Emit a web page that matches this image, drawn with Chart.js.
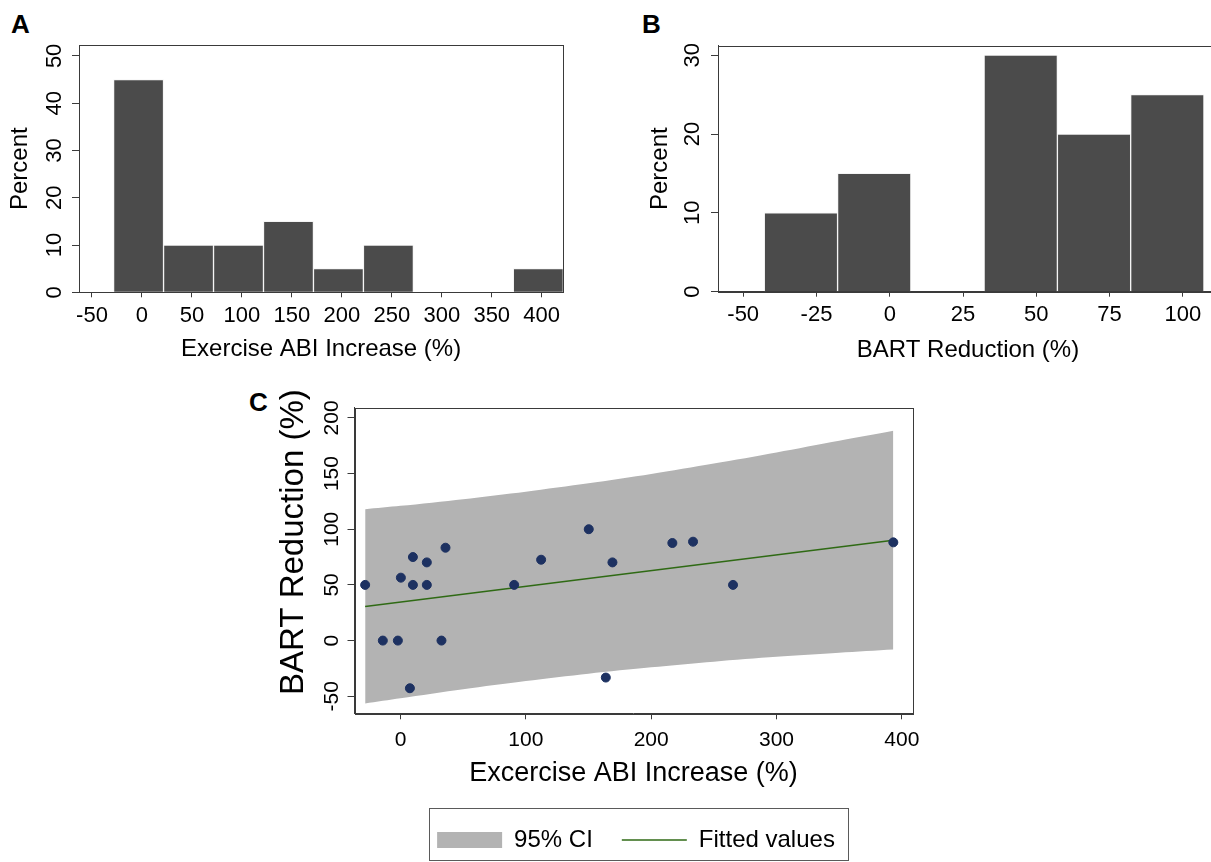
<!DOCTYPE html>
<html>
<head>
<meta charset="utf-8">
<script src="https://cdn.jsdelivr.net/npm/chart.js@4.4.1/dist/chart.umd.min.js"></script>
<style>
  html, body { margin: 0; padding: 0; background: #fff; overflow: hidden; }
  body { position: relative; width: 1211px; height: 862px; }
  canvas { position: absolute; }
  .tag { position: absolute; font: bold 26px "Liberation Sans", Arial, sans-serif; color: #000; line-height: 1; }
</style>
</head>
<body>
<div class="tag" style="left:11px;top:11px">A</div>
<div class="tag" style="left:642px;top:11px">B</div>
<div class="tag" style="left:249px;top:389px">C</div>
<canvas id="histAbi" width="600" height="370" style="left:0;top:0"></canvas>
<canvas id="histBart" width="640" height="370" style="left:600px;top:0"></canvas>
<canvas id="scatter" width="752" height="482" style="left:260px;top:380px"></canvas>
<script>
// panel A histogram (bin centres, percent)
const abiBins = [-3.4, 46.6, 96.6, 146.6, 196.6, 246.6, 296.6, 346.6, 396.6];
const abiPercent = [45, 10, 10, 15, 5, 10, 0, 0, 5];
const abiTicks = [-50, 0, 50, 100, 150, 200, 250, 300, 350, 400];
const abiPctTicks = [0, 10, 20, 30, 40, 50];

// panel B histogram
const bartBins = [-30.3, -5.3, 19.7, 44.7, 69.7, 94.7];
const bartPercent = [10, 15, 0, 30, 20, 25];
const bartTicks = [-50, -25, 0, 25, 50, 75, 100];
const bartPctTicks = [0, 10, 20, 30];

// panel C scatter
const abiIncrease = [-28.2, -14.1, -2.1, 0.3, 9.9, 9.9, 21, 21, 35.9, 32.7, 7.5, 90.7, 112.2, 150.2, 169.1, 163.8, 216.9, 233.4, 265.3, 393.2];
const bartReduction = [50, 0, 0, 56.5, 75, 50, 70.2, 50, 83.4, 0, -42.8, 50, 72.6, 100, 70.2, -33.2, 87.6, 88.8, 50, 88.2];
const bandX = [-28.2, 0, 50, 100, 150, 200, 250, 300, 350, 393.2];
const ciUpper = [118, 121, 127, 133.7, 141.2, 149.6, 159, 169, 179.5, 188.5];
const ciLower = [-56.5, -51.8, -43.7, -36.3, -29.7, -24, -18.9, -14.6, -10.9, -8];
const fittedX = [-28.2, 393.2];
const fittedY = [30.6, 90.0];
const scatterXTicks = [0, 100, 200, 300, 400];
const scatterYTicks = [-50, 0, 50, 100, 150, 200];

Chart.defaults.font.family = '"Liberation Sans", Arial, sans-serif';
Chart.defaults.color = '#000';

const AXIS = '#3a3a3a';
const BAR = '#4b4b4b';

const setTicks = (list) => (scale) => { scale.ticks = list.map(v => ({value: v})); };

const frame = {
    id: 'frame',
    afterDraw(chart) {
        const {ctx, chartArea: a} = chart;
        ctx.save();
        ctx.strokeStyle = AXIS;
        ctx.lineWidth = 1;
        ctx.strokeRect(Math.round(a.left) + 0.5, Math.round(a.top) + 0.5,
            Math.round(a.right - a.left), Math.round(a.bottom - a.top));
        ctx.restore();
    }
};

const xAxis = (min, max, ticks, title, o) => ({
    type: 'linear', min, max, offset: false,
    afterBuildTicks: setTicks(ticks),
    afterFit: (s) => { s.height = o.h; },
    grid: {offset: false, drawOnChartArea: false, tickLength: o.tl, color: AXIS},
    border: {color: AXIS},
    ticks: {font: {size: o.tf}, padding: o.tp, maxRotation: 0, autoSkip: false},
    title: {display: true, text: title, font: {size: o.ttf}, padding: {top: 0, bottom: o.tpb}}
});

const yAxis = (min, max, ticks, title, o) => ({
    type: 'linear', min, max,
    afterBuildTicks: setTicks(ticks),
    afterFit: (s) => { s.width = o.w; },
    grid: {drawOnChartArea: false, tickLength: 7, color: AXIS},
    border: {color: AXIS},
    ticks: {font: {size: o.tf}, padding: o.tp, minRotation: 90, maxRotation: 90, crossAlign: 'center', autoSkip: false},
    title: {display: true, text: title, font: {size: o.ttf}, padding: {top: o.tpt, bottom: 0}}
});

const histogram = (el, bins, pct, x, y, pad) => new Chart(document.getElementById(el), {
    type: 'bar',
    data: {
        datasets: [{
            data: bins.map((b, i) => ({x: b, y: pct[i]})),
            backgroundColor: BAR,
            borderColor: '#f4f4f4',
            borderWidth: 1,
            barPercentage: 1,
            categoryPercentage: 1
        }]
    },
    options: {
        responsive: false,
        devicePixelRatio: 1,
        animation: false,
        layout: {padding: pad},
        plugins: {legend: {display: false}, tooltip: {enabled: false}},
        scales: {x, y}
    },
    plugins: [frame]
});

histogram('histAbi', abiBins, abiPercent,
    xAxis(-63, 421.6, abiTicks, 'Exercise ABI Increase (%)', {h: 77.7, tl: 5, tf: 22, tp: 5.5, ttf: 24, tpb: 6.6}),
    yAxis(0, 52.3, abiPctTicks, 'Percent', {w: 79, tf: 22, tp: 5, ttf: 24, tpt: 5.6}),
    {top: 45, right: 36.7, left: 0, bottom: 0});

histogram('histBart', bartBins, bartPercent,
    xAxis(-58.6, 112, bartTicks, 'BART Reduction (%)', {h: 78.3, tl: 5, tf: 22, tp: 5.5, ttf: 24, tpb: 5.6}),
    yAxis(0, 31.2, bartPctTicks, 'Percent', {w: 118, tf: 22, tp: 6, ttf: 24, tpt: 46}),
    {top: 45.7, right: 22, left: 0, bottom: 0});

const legendFrame = {
    id: 'legendFrame',
    afterDraw(chart) {
        const boxes = chart.legend.legendHitBoxes;
        if (!boxes || !boxes.length) return;
        const first = boxes[0], last = boxes[boxes.length - 1];
        const cy = first.top + first.height / 2;
        const left = Math.round(first.left - 8) + 0.5;
        const right = Math.round(last.left + last.width + 13) + 0.5;
        const top = Math.round(cy - 32) + 0.5;
        const bottom = Math.round(cy + 20) + 0.5;
        const {ctx} = chart;
        ctx.save();
        ctx.strokeStyle = '#5a5a5a';
        ctx.lineWidth = 1;
        ctx.strokeRect(left, top, right - left, bottom - top);
        ctx.restore();
    }
};

const scatterY = yAxis(-65.3, 209.3, scatterYTicks, '\u00a0\u00a0\u00a0\u00a0BART Reduction (%)', {w: 94.5, tf: 21, tp: -2.5, ttf: 33, tpt: 14});

new Chart(document.getElementById('scatter'), {
    type: 'scatter',
    data: {
        datasets: [
            {
                label: 'points',
                data: abiIncrease.map((v, i) => ({x: v, y: bartReduction[i]})),
                backgroundColor: '#1d3161',
                borderColor: '#1d3161',
                pointRadius: 4.5,
                order: 0
            },
            {
                type: 'line',
                label: 'Fitted values',
                data: fittedX.map((v, i) => ({x: v, y: fittedY[i]})),
                borderColor: '#2f6a14',
                borderWidth: 1.5,
                pointRadius: 0,
                fill: false,
                order: 1
            },
            {
                type: 'line',
                label: '95% CI',
                data: bandX.map((v, i) => ({x: v, y: ciUpper[i]})),
                borderWidth: 0,
                borderColor: 'rgba(0,0,0,0)',
                backgroundColor: '#b3b3b3',
                pointRadius: 0,
                tension: 0.3,
                fill: '+1',
                order: 2
            },
            {
                type: 'line',
                label: 'lower',
                data: bandX.map((v, i) => ({x: v, y: ciLower[i]})),
                borderWidth: 0,
                borderColor: 'rgba(0,0,0,0)',
                pointRadius: 0,
                tension: 0.3,
                fill: false,
                order: 3
            }
        ]
    },
    options: {
        responsive: false,
        devicePixelRatio: 1,
        animation: false,
        layout: {padding: {top: 27.5, right: 0, left: 0, bottom: 0}},
        plugins: {
            tooltip: {enabled: false},
            legend: {
                position: 'bottom',
                onClick: null,
                labels: {
                    font: {size: 24},
                    color: '#000',
                    usePointStyle: true,
                    pointStyleWidth: 65,
                    boxHeight: 16,
                    padding: 29,
                    generateLabels: () => [
                        {text: '95% CI', fillStyle: '#b3b3b3', strokeStyle: '#b3b3b3', lineWidth: 0, pointStyle: 'rect', hidden: false, datasetIndex: 2},
                        {text: 'Fitted values', fillStyle: '#2f6a14', strokeStyle: '#2f6a14', lineWidth: 1.5, pointStyle: 'line', hidden: false, datasetIndex: 1}
                    ]
                }
            }
        },
        scales: {
            x: xAxis(-36.7, 408.5, scatterXTicks, 'Excercise ABI Increase (%)', {h: 85.7, tl: 6, tf: 21, tp: 8, ttf: 27, tpb: 8.8}),
            y: scatterY,
            // empty right-hand axis keeps the plot where it is while the legend centres on the full width
            yRight: {
                type: 'linear', position: 'right', display: true,
                grid: {display: false}, border: {display: false}, ticks: {display: false},
                afterFit: (s) => { s.width = 99.5; }
            }
        }
    },
    plugins: [frame, legendFrame]
});
</script>
</body>
</html>
